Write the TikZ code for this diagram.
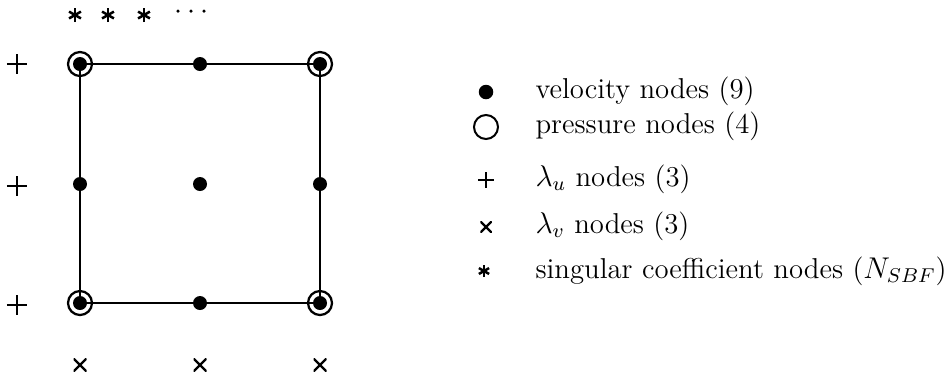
\documentclass[tikz,border=0pt]{standalone}
\usetikzlibrary{calc}
\begin{document}
\begin{tikzpicture}[x=0.4pt,y=-0.4pt,
  vel/.style={circle,fill=black,inner sep=0pt,minimum size=5.6pt},
  pres/.style={circle,draw=black,line width=0.9pt,inner sep=0pt,minimum size=9.6pt},
  plusmark/.style={rectangle,inner sep=0pt,minimum size=#1,
    path picture={\draw[line width=0.75pt]
      (path picture bounding box.north) -- (path picture bounding box.south)
      (path picture bounding box.west) -- (path picture bounding box.east);}},
  crossmark/.style={rectangle,inner sep=0pt,minimum size=#1,
    path picture={\draw[line width=0.9pt]
      (path picture bounding box.north west) -- (path picture bounding box.south east)
      (path picture bounding box.south west) -- (path picture bounding box.north east);}},
  starmark/.style={circle,inner sep=0pt,minimum size=#1,
    path picture={\foreach \a in {90,30,-30}{\draw[line width=1pt]
      ($(path picture bounding box.center)+(\a:3pt)$) -- ($(path picture bounding box.center)+(\a+180:3pt)$);}}},
  elldot/.style={circle,fill=black,inner sep=0pt,minimum size=1.4pt},
  edge/.style={line width=0.8pt},
  legtext/.style={anchor=west,inner sep=0pt,text height=1.7ex,text depth=0.5ex,
    font=\fontsize{11.5pt}{14pt}\selectfont}
]
\useasboundingbox (0,0) rectangle (946,376);
% grid nodes
\coordinate (tl) at (80,64);
\coordinate (tm) at (200,64);
\coordinate (tr) at (320,64);
\coordinate (ml) at (80,184);
\coordinate (mm) at (200,184);
\coordinate (mr) at (320,184);
\coordinate (bl) at (80,303);
\coordinate (bm) at (200,303);
\coordinate (br) at (320,303);
\draw[edge] (tl) -- (tm) -- (tr) -- (mr) -- (br) -- (bm) -- (bl) -- (ml) -- cycle;
\node[vel] (vtl) at (tl) {};\node[vel] (vtm) at (tm) {};\node[vel] (vtr) at (tr) {};
\node[vel] (vml) at (ml) {};\node[vel] (vmm) at (mm) {};\node[vel] (vmr) at (mr) {};
\node[vel] (vbl) at (bl) {};\node[vel] (vbm) at (bm) {};\node[vel] (vbr) at (br) {};
\node[pres] (ptl) at (tl) {};
\node[pres] (ptr) at (tr) {};
\node[pres] (pbl) at (bl) {};
\node[pres] (pbr) at (br) {};
% lambda_u
\node[plusmark=8pt] (u1) at (17,64) {};
\node[plusmark=8pt] (u2) at (17,186) {};
\node[plusmark=8pt] (u3) at (17,305) {};
% lambda_v
\node[crossmark=5.2pt] (v1) at (80,365) {};
\node[crossmark=5.2pt] (v2) at (200,365) {};
\node[crossmark=5.2pt] (v3) at (320,365) {};
% singular
\node[starmark=5.6pt] (s1) at (75,15) {};
\node[starmark=5.6pt] (s2) at (108,15) {};
\node[starmark=5.6pt] (s3) at (144,15) {};
\node[elldot] (e1) at (178,11) {};
\node[elldot] (e2) at (191,11) {};
\node[elldot] (e3) at (204,11) {};
% legend
\node[circle,fill=black,inner sep=0pt,minimum size=5.8pt] (lg1) at (486,92) {};
\node[circle,draw=black,line width=0.8pt,inner sep=0pt,minimum size=9.6pt] (lg2) at (486,127) {};
\node[plusmark=6.4pt] (lg3) at (486,180) {};
\node[crossmark=4.6pt] (lg4) at (486,227) {};
\node[starmark=4.8pt] (lg5) at (484,271) {};
\node[legtext] (t1) at (535,92) {velocity nodes (9)};
\node[legtext] (t2) at (535,127) {pressure nodes (4)};
\node[legtext] (t3) at (535,180) {$\lambda_u$ nodes (3)};
\node[legtext] (t4) at (535,227) {$\lambda_v$ nodes (3)};
\node[legtext] (t5) at (535,272) {singular coefficient nodes ($N_{SBF}$)};
\end{tikzpicture}
\end{document}
